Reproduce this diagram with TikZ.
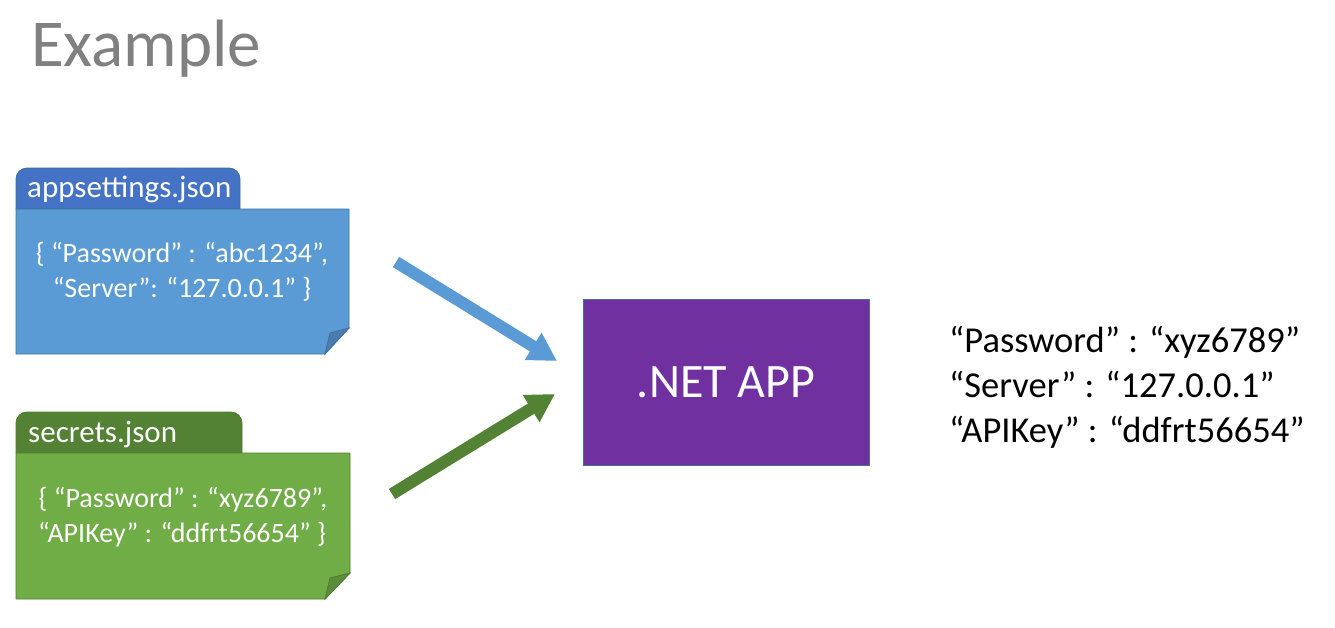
\documentclass[tikz,border=0pt]{standalone}
\usepackage{fontspec}
\setmainfont{Carlito}
\usetikzlibrary{arrows.meta}
\definecolor{tabblue}{HTML}{4472C4}
\definecolor{bodyblue}{HTML}{5B9BD5}
\definecolor{edgeblue}{HTML}{41719C}
\definecolor{foldblue}{HTML}{4A7DAE}
\definecolor{tabgreen}{HTML}{548235}
\definecolor{bodygreen}{HTML}{70AD47}
\definecolor{edgegreen}{HTML}{507E32}
\definecolor{foldgreen}{HTML}{5A8C39}
\definecolor{apppurple}{HTML}{7030A0}
\definecolor{titlegray}{HTML}{808080}
\tikzset{
  fsz/.style={font=\fontsize{#1}{#1}\selectfont},
  boxtext/.style={fsz=28, text=white, anchor=base, inner sep=0pt},
  tabtext/.style={fsz=31, text=white, anchor=base west, inner sep=0pt},
  restext/.style={fsz=36.5, anchor=base west, inner sep=0pt},
  flow/.style={line width=12pt, -{Triangle[length=28pt,width=30pt]}},
}
\begin{document}
\begin{tikzpicture}[x=1pt,y=-1pt]
\useasboundingbox (0,0) rectangle (1335,627);
\fill[white] (0,0) rectangle (1335,627);

% title
\node[fsz=67, text=titlegray, anchor=base west, inner sep=0pt] (title) at (31,66) {Example};

% appsettings.json file
\filldraw[fill=tabblue, draw=edgeblue, line width=0.8pt]
  (16,209) [rounded corners=11pt] -- (16,168) -- (240,168) [sharp corners] -- (240,209) -- cycle;
\filldraw[fill=bodyblue, draw=edgeblue, line width=0.8pt]
  (16,209) -- (349,209) -- (349,328) -- (325,354) -- (16,354) -- cycle;
\filldraw[fill=foldblue, draw=edgeblue, line width=0.8pt]
  (325,354) -- (330,333) -- (349,328) -- cycle;
\node[tabtext] (apptab) at (27,197) {appsettings.json};
\node[boxtext] (app1) at (182,262) {\{ “Password” : “abc1234”,};
\node[boxtext] (app2) at (182,297) {“Server”: “127.0.0.1” \}};

% secrets.json file
\filldraw[fill=tabgreen, draw=edgegreen, line width=0.8pt]
  (16,453) [rounded corners=11pt] -- (16,412) -- (242,412) [sharp corners] -- (242,453) -- cycle;
\filldraw[fill=bodygreen, draw=edgegreen, line width=0.8pt]
  (16,453) -- (350,453) -- (350,573) -- (325,599) -- (16,599) -- cycle;
\filldraw[fill=foldgreen, draw=edgegreen, line width=0.8pt]
  (325,599) -- (330,578) -- (350,573) -- cycle;
\node[tabtext] (sectab) at (28,442) {secrets.json};
\node[boxtext] (sec1) at (183,507) {\{ “Password” : “xyz6789”,};
\node[boxtext] (sec2) at (182,542) {“APIKey” : “ddfrt56654” \}};

% .NET APP
\node[draw=edgeblue, fill=apppurple, line width=0.8pt, minimum width=286pt, minimum height=166pt,
      inner sep=0pt, fsz=48, text=white] (netapp) at (726,382) {.NET APP};

% arrows
\coordinate (a1s) at (396,262);
\coordinate (a1e) at (557,361);
\coordinate (a2s) at (392,494);
\coordinate (a2e) at (555,394);
\draw[flow, draw=bodyblue, fill=bodyblue] (a1s) -- (a1e);
\draw[flow, draw=tabgreen, fill=tabgreen] (a2s) -- (a2e);

% result
\node[restext] (r1) at (949,352) {“Password” : “xyz6789”};
\node[restext] (r2) at (949,397) {“Server” : “127.0.0.1”};
\node[restext] (r3) at (949,442) {“APIKey” : “ddfrt56654”};
\end{tikzpicture}
\end{document}
